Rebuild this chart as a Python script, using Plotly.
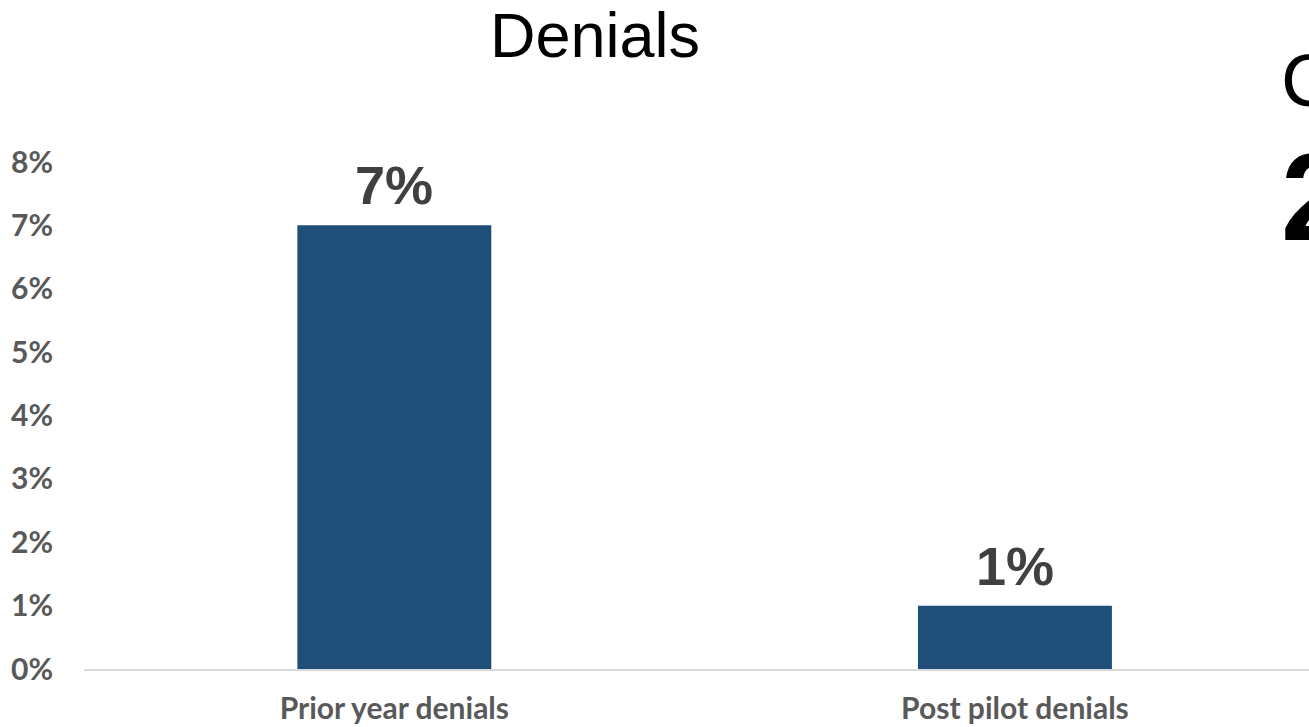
import plotly.graph_objects as go

categories = ["Prior year denials", "Post pilot denials"]
values = [0.07, 0.01]
value_labels = ["7%", "1%"]
ytick_vals = [0, 0.01, 0.02, 0.03, 0.04, 0.05, 0.06, 0.07, 0.08]
ytick_text = ["0%", "1%", "2%", "3%", "4%", "5%", "6%", "7%", "8%"]

W, H = 1309, 727
ML, MR, MT, MB = 84, 0, 162, 58

fig = go.Figure()
fig.add_trace(go.Bar(
    x=categories, y=values, width=0.3125,
    marker=dict(color="#1F4E79", line=dict(width=0)),
    hoverinfo="skip",
))

for c, v, t in zip(categories, values, value_labels):
    fig.add_annotation(x=c, y=v, text=f"<b>{t}</b>", showarrow=False,
                       xanchor="center", yanchor="bottom", yshift=8,
                       font=dict(family="Liberation Sans, Arial", size=54, color="#404040"))

# partially visible text at right edge (cut off in the original slide)
fig.add_annotation(xref="paper", yref="paper", x=(1279 - ML) / (W - ML - MR), y=1 + (MT - 80) / (H - MT - MB),
                   text="C", showarrow=False, xanchor="left", yanchor="middle",
                   font=dict(family="Liberation Sans, Arial", size=75, color="#000000"))
fig.add_annotation(xref="paper", yref="paper", x=(1279 - ML) / (W - ML - MR), y=1 - (197 - MT) / (H - MT - MB),
                   text="<b>2</b>", showarrow=False, xanchor="left", yanchor="middle",
                   font=dict(family="Liberation Sans, Arial", size=124, color="#000000"))

fig.update_layout(
    width=W, height=H,
    margin=dict(l=ML, r=MR, t=MT, b=MB, pad=0),
    paper_bgcolor="white", plot_bgcolor="white",
    showlegend=False,
    title=dict(text="Denials", x=595 / W, xref="container", xanchor="center",
               y=1 - 13 / H, yref="container", yanchor="top",
               font=dict(family="Liberation Sans, Arial", size=63, color="#000000")),
    xaxis=dict(range=[-0.5, 1.4738], showgrid=False, zeroline=False,
               showline=True, linecolor="#D9D9D9", linewidth=2,
               ticks="", ticklabelstandoff=12,
               tickfont=dict(family="Lato", size=30, color="#595959", weight="bold")),
    yaxis=dict(range=[0, 0.08], tickvals=ytick_vals, ticktext=ytick_text,
               showgrid=False, zeroline=False, showline=False, ticks="",
               ticklabelstandoff=30,
               tickfont=dict(family="Lato", size=30, color="#595959", weight="bold")),
)

fig.write_html("out.html")
